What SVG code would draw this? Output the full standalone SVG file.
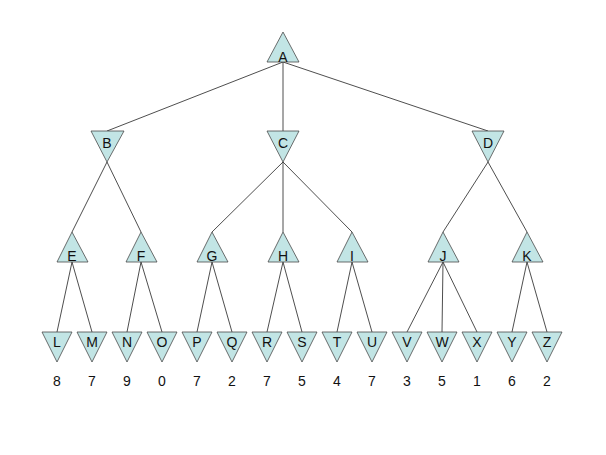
<svg xmlns="http://www.w3.org/2000/svg" width="606" height="455" viewBox="0 0 606 455">
<style>
.n{fill:#c2e5e5;stroke:#4a4a4a;stroke-width:0.8}
.t{font-family:"Liberation Sans",Arial,sans-serif;font-size:14px;fill:#111;text-anchor:middle}
.e line{stroke:#3a3a3a;stroke-width:0.9}
</style>
<rect width="606" height="455" fill="#fff"/>
<g id="edges" class="e">
<line x1="283" y1="62" x2="107" y2="131"/>
<line x1="283" y1="62" x2="283" y2="131"/>
<line x1="283" y1="62" x2="488" y2="131"/>
<line x1="107" y1="162" x2="72" y2="232"/>
<line x1="107" y1="162" x2="141" y2="232"/>
<line x1="283" y1="162" x2="212" y2="232"/>
<line x1="283" y1="162" x2="283" y2="232"/>
<line x1="283" y1="162" x2="352" y2="232"/>
<line x1="488" y1="162" x2="443" y2="232"/>
<line x1="488" y1="162" x2="527" y2="232"/>
<line x1="72" y1="262" x2="57" y2="332"/>
<line x1="72" y1="262" x2="92" y2="332"/>
<line x1="141" y1="262" x2="127" y2="332"/>
<line x1="141" y1="262" x2="162" y2="332"/>
<line x1="212" y1="262" x2="197" y2="332"/>
<line x1="212" y1="262" x2="232" y2="332"/>
<line x1="283" y1="262" x2="267" y2="332"/>
<line x1="283" y1="262" x2="302" y2="332"/>
<line x1="352" y1="262" x2="337" y2="332"/>
<line x1="352" y1="262" x2="372" y2="332"/>
<line x1="443" y1="262" x2="407" y2="332"/>
<line x1="443" y1="262" x2="442" y2="332"/>
<line x1="443" y1="262" x2="477" y2="332"/>
<line x1="527" y1="262" x2="512" y2="332"/>
<line x1="527" y1="262" x2="547" y2="332"/>
</g>
<g id="A"><polygon class="n" points="283,32 299,62 267,62"/><text class="t" x="283" y="62">A</text></g>
<g id="B"><polygon class="n" points="91,131 124,131 107,162"/><text class="t" x="107" y="148">B</text></g>
<g id="C"><polygon class="n" points="267,131 299,131 283,162"/><text class="t" x="283" y="148">C</text></g>
<g id="D"><polygon class="n" points="472,131 504,131 488,162"/><text class="t" x="488" y="148">D</text></g>
<g id="E"><polygon class="n" points="72,232 88,262 57,262"/><text class="t" x="72" y="261">E</text></g>
<g id="F"><polygon class="n" points="141,232 157,262 126,262"/><text class="t" x="141" y="261">F</text></g>
<g id="G"><polygon class="n" points="212,232 228,262 197,262"/><text class="t" x="212" y="261">G</text></g>
<g id="H"><polygon class="n" points="283,232 299,262 268,262"/><text class="t" x="283" y="261">H</text></g>
<g id="I"><polygon class="n" points="352,232 368,262 337,262"/><text class="t" x="352" y="261">I</text></g>
<g id="J"><polygon class="n" points="443,232 459,262 428,262"/><text class="t" x="443" y="261">J</text></g>
<g id="K"><polygon class="n" points="527,232 543,262 512,262"/><text class="t" x="527" y="261">K</text></g>
<g id="L"><polygon class="n" points="42,332 72,332 57,362"/><text class="t" x="57" y="347">L</text><text class="t" x="57" y="386">8</text></g>
<g id="M"><polygon class="n" points="77,332 107,332 92,362"/><text class="t" x="92" y="347">M</text><text class="t" x="92" y="386">7</text></g>
<g id="N"><polygon class="n" points="112,332 142,332 127,362"/><text class="t" x="127" y="347">N</text><text class="t" x="127" y="386">9</text></g>
<g id="O"><polygon class="n" points="147,332 177,332 162,362"/><text class="t" x="162" y="347">O</text><text class="t" x="162" y="386">0</text></g>
<g id="P"><polygon class="n" points="182,332 212,332 197,362"/><text class="t" x="197" y="347">P</text><text class="t" x="197" y="386">7</text></g>
<g id="Q"><polygon class="n" points="217,332 247,332 232,362"/><text class="t" x="232" y="347">Q</text><text class="t" x="232" y="386">2</text></g>
<g id="R"><polygon class="n" points="252,332 282,332 267,362"/><text class="t" x="267" y="347">R</text><text class="t" x="267" y="386">7</text></g>
<g id="S"><polygon class="n" points="287,332 317,332 302,362"/><text class="t" x="302" y="347">S</text><text class="t" x="302" y="386">5</text></g>
<g id="T"><polygon class="n" points="322,332 352,332 337,362"/><text class="t" x="337" y="347">T</text><text class="t" x="337" y="386">4</text></g>
<g id="U"><polygon class="n" points="357,332 387,332 372,362"/><text class="t" x="372" y="347">U</text><text class="t" x="372" y="386">7</text></g>
<g id="V"><polygon class="n" points="392,332 422,332 407,362"/><text class="t" x="407" y="347">V</text><text class="t" x="407" y="386">3</text></g>
<g id="W"><polygon class="n" points="427,332 457,332 442,362"/><text class="t" x="442" y="347">W</text><text class="t" x="442" y="386">5</text></g>
<g id="X"><polygon class="n" points="462,332 492,332 477,362"/><text class="t" x="477" y="347">X</text><text class="t" x="477" y="386">1</text></g>
<g id="Y"><polygon class="n" points="497,332 527,332 512,362"/><text class="t" x="512" y="347">Y</text><text class="t" x="512" y="386">6</text></g>
<g id="Z"><polygon class="n" points="532,332 562,332 547,362"/><text class="t" x="547" y="347">Z</text><text class="t" x="547" y="386">2</text></g>
</svg>
